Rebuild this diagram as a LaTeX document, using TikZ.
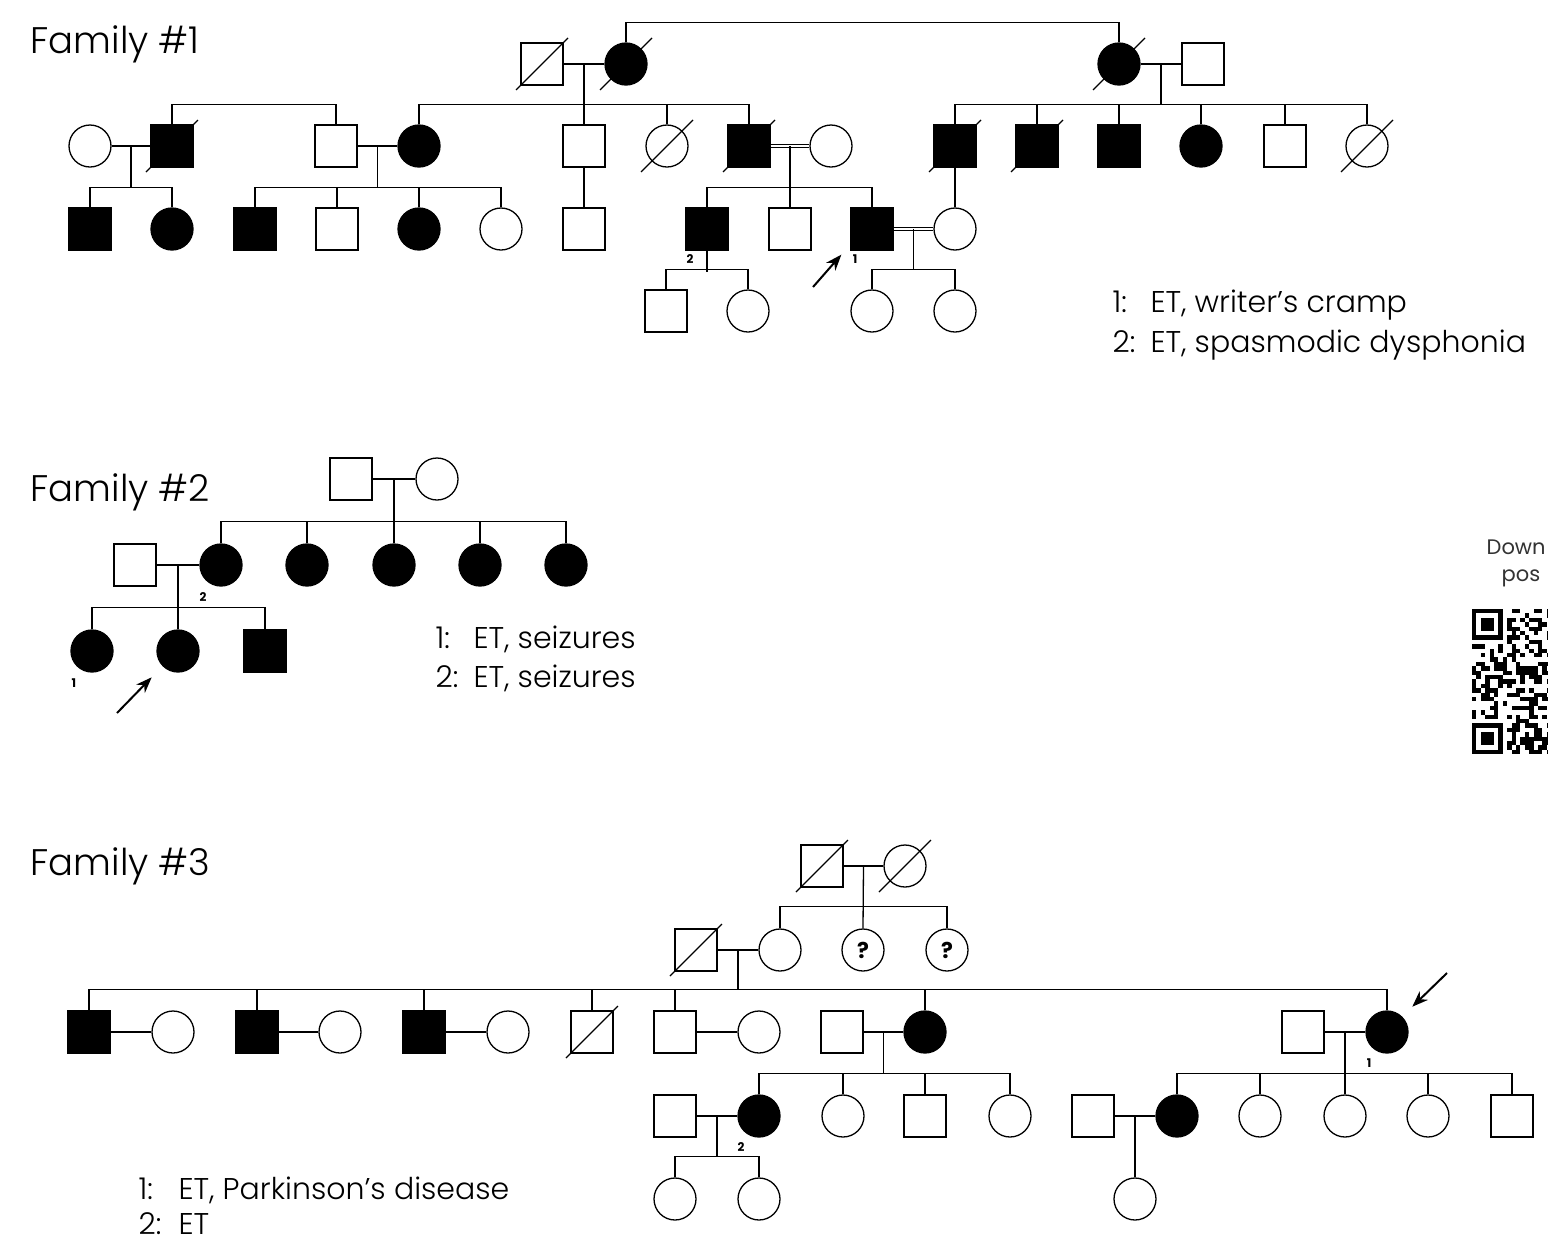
\documentclass[tikz,border=0pt]{standalone}
\usepackage{fontspec}
\setmainfont{Poppins}[UprightFont=* Light, BoldFont=* Bold]
\newfontfamily\qrfont{Poppins}
\usetikzlibrary{positioning,arrows.meta,calc}
\newcommand{\dead}[1]{\draw ($(#1.center)+(-26,26)$) -- ($(#1.center)+(26,-26)$);}
\begin{document}
\begin{tikzpicture}[x=1pt, y=-1pt, line width=1.3pt,
  m/.style={draw,rectangle,minimum size=42pt,inner sep=0pt},
  f/.style={draw,circle,minimum size=42pt,inner sep=0pt},
  aff/.style={fill=black},
  cons/.style={double,double distance=2.2pt},
  unk/.style={font=\fontsize{22}{22}\selectfont\bfseries},
  lbl/.style={font=\fontsize{12}{12}\selectfont\bfseries,inner sep=0pt},
  title/.style={font=\fontsize{37}{44}\selectfont,anchor=base west,inner sep=0pt},
  key/.style={font=\fontsize{30}{34}\selectfont,anchor=base west,inner sep=0pt},
  arr/.style={-{Stealth[length=16pt,width=12pt]},line width=2pt}]
  \useasboundingbox (0,0) rectangle (1548,1243);

  % Family 1
  \node[title](t1) at (30,53){Family \#1};
  \node[m](AIa) at (542,64){};
  \node[f,aff](AIb) at (626,64){};
  \node[f,aff](AIc) at (1119,64){};
  \node[m](AId) at (1203,64){};
  \node[f](AIIa) at (90,146){};
  \node[m,aff](AIIb) at (172,146){};
  \node[m](AIIc) at (336,146){};
  \node[f,aff](AIId) at (419,146){};
  \node[m](AIIe) at (584,146){};
  \node[f](AIIf) at (667,146){};
  \node[m,aff](AIIg) at (749,146){};
  \node[f](AIIh) at (831,146){};
  \node[m,aff](AIIi) at (955,146){};
  \node[m,aff](AIIj) at (1037,146){};
  \node[m,aff](AIIk) at (1119,146){};
  \node[f,aff](AIIl) at (1201,146){};
  \node[m](AIIm) at (1285,146){};
  \node[f](AIIn) at (1367,146){};
  \node[m,aff](AIIIa) at (90,229){};
  \node[f,aff](AIIIb) at (172,229){};
  \node[m,aff](AIIIc) at (255,229){};
  \node[m](AIIId) at (337,229){};
  \node[f,aff](AIIIe) at (419,229){};
  \node[f](AIIIf) at (501,229){};
  \node[m](AIIIg) at (584,229){};
  \node[m,aff](AIIIh) at (707,229){};
  \node[m](AIIIi) at (790,229){};
  \node[m,aff](AIIIj) at (872,229){};
  \node[f](AIIIk) at (955,229){};
  \node[m](AIVa) at (666,311){};
  \node[f](AIVb) at (748,311){};
  \node[f](AIVc) at (872,311){};
  \node[f](AIVd) at (955,311){};
  \draw (AIb.north) -- ++(0,-20) -| (AIc.north);
  \draw (AIa) -- (AIb); \draw (AIc) -- (AId);
  \coordinate(A1) at ($(AIa.east)!0.5!(AIb.west)$);
  \coordinate(A2) at ($(AIc.east)!0.5!(AId.west)$);
  \draw (A1) -- (AIIe.north);
  \draw (A2) -- ++(0,41);
  \draw (AIId.north) -- ++(0,-20) -| (AIIg.north);
  \draw (AIIf.north) -- ++(0,-20);
  \draw (AIIb.north) -- ++(0,-20) -| (AIIc.north);
  \draw (AIIi.north) -- ++(0,-20) -| (AIIn.north);
  \foreach \n in {AIIj,AIIk,AIIl,AIIm} \draw (\n.north) -- ++(0,-20);
  \draw (AIIa) -- (AIIb); \draw (AIIc) -- (AIId); \draw[cons] (AIIg) -- (AIIh);
  \coordinate(A3) at ($(AIIa.east)!0.5!(AIIb.west)$);
  \coordinate(A4) at ($(AIIc.east)!0.5!(AIId.west)$);
  \coordinate(A5) at ($(AIIg.east)!0.5!(AIIh.west)$);
  \foreach \c in {A3,A4,A5} \draw (\c) -- ++(0,42);
  \draw (AIIe) -- (AIIIg); \draw (AIIi) -- (AIIIk);
  \draw (AIIIa.north) -- ++(0,-20) -| (AIIIb.north);
  \draw (AIIIc.north) -- ++(0,-20) -| (AIIIf.north);
  \draw (AIIIh.north) -- ++(0,-20) -| (AIIIj.north);
  \foreach \n in {AIIId,AIIIe,AIIIi} \draw (\n.north) -- ++(0,-20);
  \draw[cons] (AIIIj) -- (AIIIk);
  \coordinate(A6) at ($(AIIIj.east)!0.5!(AIIIk.west)$);
  \draw (A6) -- ++(0,41);
  \draw (AIIIh.south) -- ++(0,21);
  \draw (AIVa.north) -- ++(0,-20) -| (AIVb.north);
  \draw (AIVc.north) -- ++(0,-20) -| (AIVd.north);
  \foreach \n in {AIa,AIb,AIc,AIIb,AIIf,AIIg,AIIi,AIIj,AIIn} {\dead{\n}}
  \node[lbl](nA2) at (690,259){2};
  \node[lbl](nA1) at (855,259){1};
  \coordinate(pA) at (813,287);
  \draw[arr] (pA) -- ($(AIIIj.south west)+(-9,4)$);
  \node[key](kA1) at (1112,312){\makebox[38pt][l]{1:}ET, writer’s cramp};
  \node[key](kA2) at (1112,352){\makebox[38pt][l]{2:}ET, spasmodic dysphonia};

  % Family 2
  \node[title](t2) at (30,501){Family \#2};
  \node[m](BIa) at (351,479){};
  \node[f](BIb) at (437,479){};
  \node[m](BIIa) at (135,565){};
  \node[f,aff](BIIb) at (221,565){};
  \node[f,aff](BIIc) at (307,565){};
  \node[f,aff](BIId) at (394,565){};
  \node[f,aff](BIIe) at (480,565){};
  \node[f,aff](BIIf) at (566,565){};
  \node[f,aff](BIIIa) at (92,651){};
  \node[f,aff](BIIIb) at (178,651){};
  \node[m,aff](BIIIc) at (265,651){};
  \draw (BIa) -- (BIb); \draw (BIIa) -- (BIIb);
  \coordinate(B1) at ($(BIa.east)!0.5!(BIb.west)$);
  \coordinate(B2) at ($(BIIa.east)!0.5!(BIIb.west)$);
  \draw (B1) -- (BIId.north);
  \draw (BIIb.north) -- ++(0,-22) -| (BIIf.north);
  \foreach \n in {BIIc,BIIe} \draw (\n.north) -- ++(0,-22);
  \draw (B2) -- (BIIIb.north);
  \draw (BIIIa.north) -- ++(0,-22) -| (BIIIc.north);
  \node[lbl](nB2) at (203,597){2};
  \node[lbl](nB1) at (74,683){1};
  \coordinate(pB) at (117,713);
  \draw[arr] (pB) -- ($(BIIIb.south west)+(-11,11)$);
  \node[key](kB1) at (435,648){\makebox[38pt][l]{1:}ET, seizures};
  \node[key](kB2) at (435,687){\makebox[38pt][l]{2:}ET, seizures};

  % download hint and QR code
  \node[font=\qrfont\fontsize{21}{24}\selectfont,text=black!80,anchor=base west,inner sep=0pt](dl) at (1486,554){Down};
  \node[font=\qrfont\fontsize{21}{24}\selectfont,text=black!80,anchor=base west,inner sep=0pt](ps) at (1501,581){pos};
  \begin{scope}
    \clip (1460,600) rectangle (1548,760);
    \pgfmathsetseed{4711}
    \foreach \i in {0,...,17}{
      \foreach \j in {0,...,32}{
        \pgfmathtruncatemacro\qrskip{(\i<8)&&((\j<8)||(\j>24))}
        \pgfmathtruncatemacro\qron{rnd<0.5}
        \ifnum\qrskip=0 \ifnum\qron=1
          \fill (1472+\i*4.4,609+\j*4.4) rectangle ++(4.4,4.4);
        \fi\fi
      }
    }
    \foreach \y in {609,723.4}{
      \fill (1472,\y) rectangle ++(30.8,30.8);
      \fill[white] (1476.4,\y+4.4) rectangle ++(22,22);
      \fill (1480.8,\y+8.8) rectangle ++(13.2,13.2);
    }
  \end{scope}

  % Family 3
  \node[title](t3) at (30,875){Family \#3};
  \node[m](CIa) at (822,866){};
  \node[f](CIb) at (905,866){};
  \node[m](CIIa) at (696,950){};
  \node[f](CIIb) at (780,950){};
  \node[f,unk](CIIc) at (863,950){?};
  \node[f,unk](CIId) at (947,950){?};
  \node[m,aff](CIIIa) at (89,1032){};
  \node[f](CIIIb) at (173,1032){};
  \node[m,aff](CIIIc) at (257,1032){};
  \node[f](CIIId) at (340,1032){};
  \node[m,aff](CIIIe) at (424,1032){};
  \node[f](CIIIf) at (508,1032){};
  \node[m](CIIIg) at (592,1032){};
  \node[m](CIIIh) at (675,1032){};
  \node[f](CIIIi) at (759,1032){};
  \node[m](CIIIj) at (842,1032){};
  \node[f,aff](CIIIk) at (925,1032){};
  \node[m](CIIIl) at (1303,1032){};
  \node[f,aff](CIIIm) at (1387,1032){};
  \node[m](CIVa) at (675,1116){};
  \node[f,aff](CIVb) at (759,1116){};
  \node[f](CIVc) at (843,1116){};
  \node[m](CIVd) at (925,1116){};
  \node[f](CIVe) at (1010,1116){};
  \node[m](CIVf) at (1093,1116){};
  \node[f,aff](CIVg) at (1177,1116){};
  \node[f](CIVh) at (1260,1116){};
  \node[f](CIVi) at (1345,1116){};
  \node[f](CIVj) at (1428,1116){};
  \node[m](CIVk) at (1512,1116){};
  \node[f](CVa) at (675,1199){};
  \node[f](CVb) at (759,1199){};
  \node[f](CVc) at (1135,1199){};
  \draw (CIa) -- (CIb); \draw (CIIa) -- (CIIb);
  \coordinate(C1) at ($(CIa.east)!0.5!(CIb.west)$);
  \coordinate(C2) at ($(CIIa.east)!0.5!(CIIb.west)$);
  \draw (C1) -- (CIIc.north);
  \draw (CIIb.north) -- ++(0,-22) -| (CIId.north);
  \draw (C2) -- ++(0,40);
  \draw (CIIIa.north) -- ++(0,-21) -| (CIIIm.north);
  \foreach \n in {CIIIc,CIIIe,CIIIg,CIIIh,CIIIk} \draw (\n.north) -- ++(0,-21);
  \draw (CIIIa) -- (CIIIb); \draw (CIIIc) -- (CIIId); \draw (CIIIe) -- (CIIIf);
  \draw (CIIIh) -- (CIIIi); \draw (CIIIj) -- (CIIIk); \draw (CIIIl) -- (CIIIm);
  \coordinate(C3) at ($(CIIIj.east)!0.5!(CIIIk.west)$);
  \coordinate(C4) at ($(CIIIl.east)!0.5!(CIIIm.west)$);
  \draw (C3) -- ++(0,42);
  \draw (C4) -- (CIVi.north);
  \draw (CIVb.north) -- ++(0,-21) -| (CIVe.north);
  \draw (CIVg.north) -- ++(0,-21) -| (CIVk.north);
  \foreach \n in {CIVc,CIVd,CIVh,CIVj} \draw (\n.north) -- ++(0,-21);
  \draw (CIVa) -- (CIVb); \draw (CIVf) -- (CIVg);
  \coordinate(C5) at ($(CIVa.east)!0.5!(CIVb.west)$);
  \coordinate(C6) at ($(CIVf.east)!0.5!(CIVg.west)$);
  \draw (C5) -- ++(0,41);
  \draw (C6) -- (CVc.north);
  \draw (CVa.north) -- ++(0,-21) -| (CVb.north);
  \foreach \n in {CIa,CIb,CIIa,CIIIg} {\dead{\n}}
  \node[lbl](nC2) at (741,1147){2};
  \node[lbl](nC1) at (1369,1063){1};
  \coordinate(pC) at (1447,973);
  \draw[arr] (pC) -- ($(CIIIm.north east)+(10,-10)$);
  \node[key](kC1) at (138,1199){\makebox[40pt][l]{1:}ET, Parkinson’s disease};
  \node[key](kC2) at (138,1234){\makebox[40pt][l]{2:}ET};
\end{tikzpicture}
\end{document}
